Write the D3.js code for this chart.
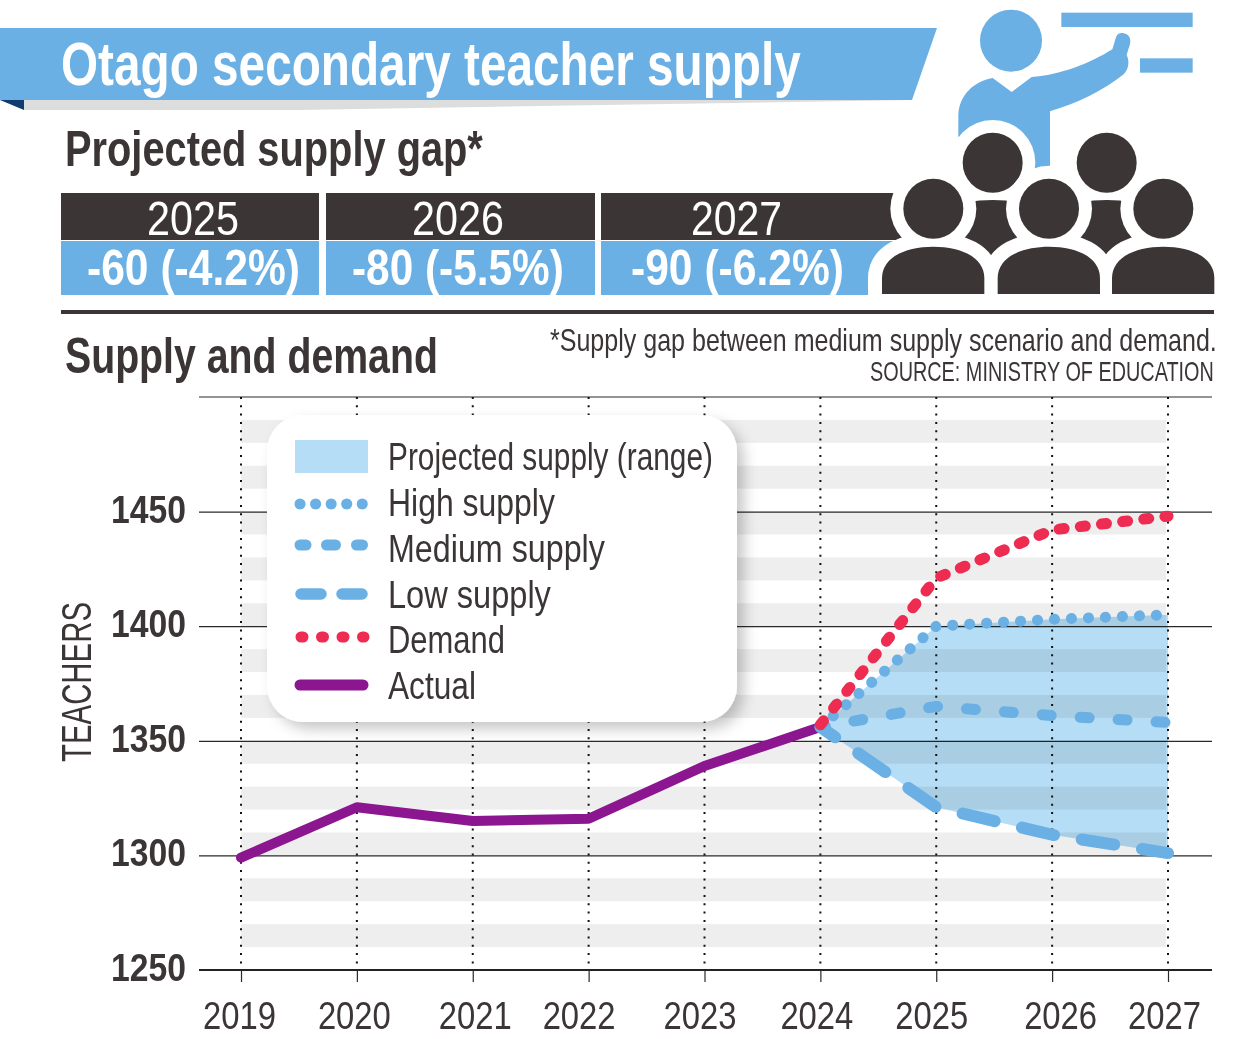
<!DOCTYPE html>
<html>
<head>
<meta charset="utf-8">
<title>Otago secondary teacher supply</title>
<script src="https://cdn.jsdelivr.net/npm/d3@7"></script>
<style>
  html, body { margin: 0; padding: 0; background: #fff; }
  svg { display: block; }
  text { font-family: "Liberation Sans Narrow", "Liberation Sans", sans-serif; }
  .axis-y .domain, .axis-x .domain { display: none; }
</style>
</head>
<body>
<svg id="chart" width="1240" height="1039"></svg>
<script>
const years = [2019, 2020, 2021, 2022, 2023, 2024, 2025, 2026, 2027];
const actual = [1299, 1321, 1315, 1316, 1339, 1356];
const projectedYears = [2024, 2025, 2026, 2027];
const demand = [1357, 1421, 1442, 1448];
const highSupply = [1356, 1400, 1403, 1405];
const mediumSupply = [1356, 1365, 1361, 1358];
const lowSupply = [1356, 1321, 1309, 1301];
const yTicks = [1250, 1300, 1350, 1400, 1450];
const bandTops = d3.range(1490, 1260, -20);
const gapYears = ['2025', '2026', '2027'];
const gapLabels = ['-60 (-4.2%)', '-80 (-5.5%)', '-90 (-6.2%)'];

const BLUE = '#6ab0e4', DARK = '#3b3536', RED = '#ee2b50', PURPLE = '#8b168f';

const svg = d3.select('#chart');
const defs = svg.append('defs');
defs.append('filter').attr('id', 'shadow')
  .attr('x', '-10%').attr('y', '-10%').attr('width', '125%').attr('height', '125%')
  .append('feDropShadow')
  .attr('dx', 7).attr('dy', 7).attr('stdDeviation', 7)
  .attr('flood-color', '#000').attr('flood-opacity', 0.22);

// text squeezed to the width measured on the picture
function label(parent, str, x, y, size, width, o = {}) {
  const t = parent.append('text')
    .attr('font-size', size)
    .attr('font-weight', o.weight || 400)
    .attr('fill', o.fill || DARK)
    .text(str);
  const natural = t.node().getComputedTextLength();
  return t.attr('transform', `translate(${x},${y}) scale(${width / natural},1)`);
}

// header banner
svg.append('polygon').attr('points', '24,100 912,100 300,110 24,110').attr('fill', '#dcdedd');
svg.append('polygon').attr('points', '0,100 24,100 24,110').attr('fill', '#0f3d70');
svg.append('polygon').attr('points', '0,28 937,28 912,100 0,100').attr('fill', BLUE);
label(svg, 'Otago secondary teacher supply', 61, 85, 61, 740, { weight: 700, fill: '#fff' });
label(svg, 'Projected supply gap*', 65, 166, 50, 418, { weight: 700 });

// gap table
const cols = [[61, 319], [326, 595], [601, 905]];
const yearText = [[147, 92], [412, 92], [691, 91]];
const gapText = [[87, 213], [352, 212], [631, 213]];
gapYears.forEach((yr, i) => {
  const [x0, x1] = cols[i];
  svg.append('rect').attr('x', x0).attr('y', 193).attr('width', x1 - x0).attr('height', 47).attr('fill', DARK);
  svg.append('rect').attr('x', x0).attr('y', 241).attr('width', x1 - x0).attr('height', 54).attr('fill', BLUE);
  label(svg, yr, yearText[i][0], 235, 49, yearText[i][1], { fill: '#fff' });
  label(svg, gapLabels[i], gapText[i][0], 285, 50, gapText[i][1], { weight: 700, fill: '#fff' });
});

drawIcon();

svg.append('rect').attr('x', 61).attr('y', 310).attr('width', 1153).attr('height', 4).attr('fill', DARK);
label(svg, 'Supply and demand', 65, 373, 50, 373, { weight: 700 });
label(svg, '*Supply gap between medium supply scenario and demand.', 550, 351, 31, 667);
label(svg, 'SOURCE: MINISTRY OF EDUCATION', 870, 381, 28, 344);

// chart
const x = d3.scaleLinear().domain([2019, 2027]).range([241, 1168]);
const y = d3.scaleLinear().domain([1250, 1500]).range([970, 397]);

svg.append('g').selectAll('rect').data(bandTops).join('rect')
  .attr('x', x(2019)).attr('width', x(2027) - x(2019) - 2)
  .attr('y', d => y(d)).attr('height', d => y(d - 10) - y(d))
  .attr('fill', '#eeeeee');

const axisY = svg.append('g').attr('class', 'axis-y').attr('transform', 'translate(199,0)')
  .call(d3.axisLeft(y).tickValues(yTicks).tickSize(-1013).tickPadding(13).tickFormat(d3.format('d')));
axisY.selectAll('line').attr('stroke', '#2a2a2a').attr('stroke-width', 1.2);
axisY.selectAll('text')
  .attr('font-size', 38).attr('font-weight', 700).attr('fill', DARK).attr('font-family', null)
  .attr('dy', 10.5).attr('textLength', 75).attr('lengthAdjust', 'spacingAndGlyphs');

svg.append('line').attr('x1', 199).attr('x2', 1212).attr('y1', 397).attr('y2', 397)
  .attr('stroke', '#2a2a2a').attr('stroke-width', 1.2);

const rowArea = d3.area().x((d, i) => x(projectedYears[i])).y0((d, i) => y(lowSupply[i])).y1(d => y(d));
svg.append('path').attr('d', rowArea(highSupply))
  .attr('fill', '#b5ddf5').style('mix-blend-mode', 'multiply');

// dotted year guides sit over the range fill
svg.append('g').selectAll('line').data(years).join('line')
  .attr('x1', d => x(d)).attr('x2', d => x(d))
  .attr('y1', y(1500)).attr('y2', y(1250))
  .attr('stroke', '#111').attr('stroke-width', 2).attr('stroke-dasharray', '2 6.3');

const axisX = svg.append('g').attr('class', 'axis-x').attr('transform', 'translate(0,970)')
  .call(d3.axisBottom(x).tickValues(years).tickSize(12).tickPadding(20).tickFormat(d3.format('d')));
axisX.selectAll('line').attr('stroke', '#2a2a2a').attr('stroke-width', 1.2);
// the printed year labels are not centred on their ticks
const yearNudge = [-2, -3, 2, -10, -5, -4, -5, 8, -4];
axisX.selectAll('text')
  .attr('font-size', 38).attr('fill', DARK).attr('font-family', null)
  .attr('dx', (d, i) => yearNudge[i])
  .attr('textLength', 73).attr('lengthAdjust', 'spacingAndGlyphs');
svg.append('line').attr('x1', 199).attr('x2', 1212).attr('y1', 970).attr('y2', 970)
  .attr('stroke', '#222').attr('stroke-width', 2.2);

const line = xs => d3.line().x((d, i) => x(xs[i])).y(d => y(d));
function series(values, xs, color, width, dash, offset = 0) {
  svg.append('path').attr('d', line(xs)(values))
    .attr('fill', 'none').attr('stroke', color).attr('stroke-width', width)
    .attr('stroke-linecap', 'round').attr('stroke-linejoin', 'round')
    .attr('stroke-dasharray', dash).attr('stroke-dashoffset', offset);
}
series(actual, years.slice(0, 6), PURPLE, 10, null);
series(lowSupply, projectedYears, BLUE, 12, '33 28', 15);
series(mediumSupply, projectedYears, BLUE, 11, '9 29', 4);
series(highSupply, projectedYears, BLUE, 11, '0.1 16.9');
series(demand, projectedYears, RED, 11, '5 16.3');

svg.append('text')
  .attr('transform', 'translate(91,762) rotate(-90)')
  .attr('font-size', 42).attr('fill', DARK)
  .attr('textLength', 160).attr('lengthAdjust', 'spacingAndGlyphs')
  .text('TEACHERS');

// legend
const legend = svg.append('g');
legend.append('rect').attr('x', 267).attr('y', 415).attr('width', 470).attr('height', 307)
  .attr('rx', 36).attr('fill', '#fff').attr('filter', 'url(#shadow)');
legend.append('rect').attr('x', 295).attr('y', 440).attr('width', 73).attr('height', 33).attr('fill', '#b5ddf5');
const legendRows = [
  { name: 'Projected supply (range)', base: 470, w: 325 },
  { name: 'High supply', base: 516, w: 167, ly: 504, x1: 300, x2: 363, color: BLUE, sw: 11, dash: '0.1 15.45' },
  { name: 'Medium supply', base: 562, w: 217, ly: 545, x1: 300, x2: 363, color: BLUE, sw: 11, dash: '6 20.5 9 21 6 100' },
  { name: 'Low supply', base: 608, w: 163, ly: 594, x1: 301, x2: 362, color: BLUE, sw: 11.5, dash: '20 21' },
  { name: 'Demand', base: 653, w: 117, ly: 637, x1: 301, x2: 364, color: RED, sw: 11, dash: '2 18.5' },
  { name: 'Actual', base: 699, w: 88, ly: 685, x1: 300, x2: 363, color: PURPLE, sw: 11, dash: null },
];
legendRows.forEach(r => {
  label(legend, r.name, 388, r.base, 38, r.w);
  if (r.ly) {
    legend.append('line').attr('x1', r.x1).attr('x2', r.x2).attr('y1', r.ly).attr('y2', r.ly)
      .attr('stroke', r.color).attr('stroke-width', r.sw).attr('stroke-linecap', 'round')
      .attr('stroke-dasharray', r.dash);
  }
});

// teacher and class pictogram, drawn in 3x units
function drawIcon() {
  const g = svg.append('g').attr('transform', 'translate(860,0) scale(0.33333)');
  g.append('circle').attr('cx', 453).attr('cy', 122).attr('r', 93).attr('fill', BLUE);
  g.append('rect').attr('x', 604).attr('y', 38).attr('width', 394).attr('height', 43).attr('fill', BLUE);
  g.append('rect').attr('x', 840).attr('y', 175).attr('width', 158).attr('height', 43).attr('fill', BLUE);
  g.append('path').attr('fill', BLUE)
    .attr('d', 'M295,410 L295,345 C298,285 340,245 398,234 L455,276 L515,231 C600,226 690,190 757,148 ' +
      'L768,112 C773,95 790,98 800,103 C815,112 812,130 806,145 L800,165 C808,180 808,205 792,222 ' +
      'C730,272 650,310 570,334 L570,510 L500,510 Z');

  const backX = [398, 740];
  const frontX = [220, 567, 910];
  const body = cx => `M${cx - 154},882 L${cx - 154},835 C${cx - 154},770 ${cx - 80},740 ${cx},740 ` +
    `C${cx + 80},740 ${cx + 153},770 ${cx + 153},835 L${cx + 153},882 Z`;

  backX.forEach(cx => g.append('circle').attr('cx', cx).attr('cy', 488).attr('r', 128).attr('fill', '#fff'));
  backX.forEach(cx => {
    g.append('path').attr('fill', DARK)
      .attr('d', `M${cx - 75},606 C${cx - 30},598 ${cx + 30},598 ${cx + 75},606 L${cx + 160},880 L${cx - 160},880 Z`);
    g.append('circle').attr('cx', cx).attr('cy', 488).attr('r', 90).attr('fill', DARK);
  });
  frontX.forEach(cx => {
    g.append('circle').attr('cx', cx).attr('cy', 626).attr('r', 129).attr('fill', '#fff');
    g.append('path').attr('d', body(cx)).attr('fill', '#fff').attr('stroke', '#fff').attr('stroke-width', 84);
  });
  frontX.forEach(cx => {
    g.append('circle').attr('cx', cx).attr('cy', 626).attr('r', 90).attr('fill', DARK);
    g.append('path').attr('d', body(cx)).attr('fill', DARK);
  });
}
</script>
</body>
</html>
